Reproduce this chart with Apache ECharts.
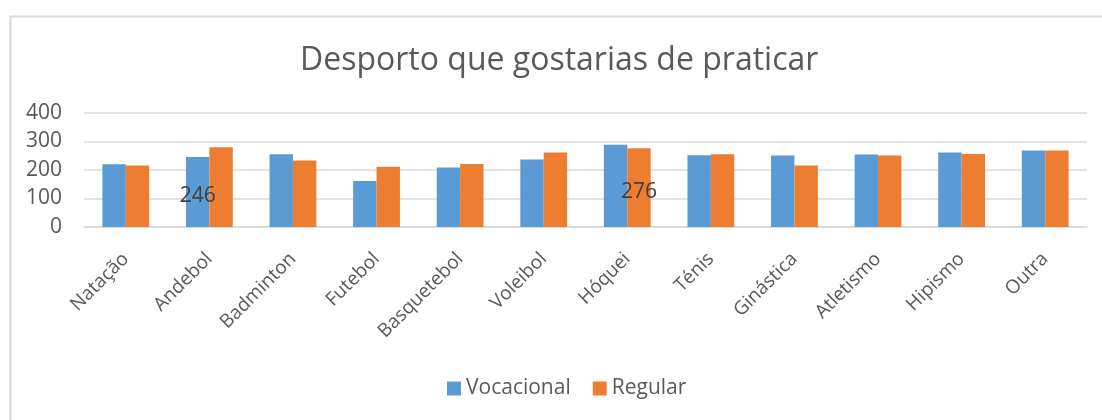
<!DOCTYPE html>
<html>
<head>
<meta charset="utf-8">
<script src="https://cdn.jsdelivr.net/npm/echarts@6/dist/echarts.min.js"></script>
<style>
  html, body { margin: 0; padding: 0; background: #fff; }
  #main { width: 1102px; height: 420px; }
</style>
</head>
<body>
<div id="main"></div>
<script>
var categories = ['Natação', 'Andebol', 'Badminton', 'Futebol', 'Basquetebol', 'Voleibol',
    'Hóquei', 'Ténis', 'Ginástica', 'Atletismo', 'Hipismo', 'Outra'];
var vocacional = [220, 246, 255, 161, 209, 237, 289, 252, 251, 254, 261, 268];
var regular = [216, 280, 233, 211, 221, 261, 276, 255, 216, 251, 256, 268];
// only these points carry a value label in the original
var vocacionalLabels = ['Andebol'];
var regularLabels = ['Hóquei'];

var FONT = '"Open Sans", "DejaVu Sans", sans-serif';
var TXT = '#595959';

function toData(values, labelled) {
    var out = [];
    for (var i = 0; i < values.length; i++) {
        var item = { value: values[i] };
        if (labelled.indexOf(categories[i]) >= 0) {
            item.label = { show: true };
        }
        out.push(item);
    }
    return out;
}

var chart = echarts.init(document.getElementById('main'));

var barLabel = {
    show: false,
    position: 'inside',
    offset: [0, 4],
    color: '#404040',
    fontFamily: FONT,
    fontSize: 21
};

var option = {
    animation: false,
    backgroundColor: '#fff',
    textStyle: { fontFamily: FONT },
    title: {
        text: 'Desporto que gostarias de praticar',
        left: 300,
        top: 45,
        padding: 0,
        textStyle: { color: TXT, fontSize: 32, fontWeight: 'normal', fontFamily: FONT }
    },
    graphic: [{
        type: 'rect',
        left: 8, top: 14,
        shape: { width: 1200, height: 500 },
        style: { fill: 'none', stroke: '#d9d9d9', lineWidth: 2 },
        silent: true
    }],
    legend: {
        data: ['Vocacional', 'Regular'],
        bottom: 16,
        left: 442,
        itemWidth: 14,
        itemHeight: 14,
        itemGap: 22,
        icon: 'rect',
        textStyle: { color: TXT, fontSize: 21, fontFamily: FONT }
    },
    grid: { left: 84, right: 15, top: 113, bottom: 193 },
    xAxis: {
        type: 'category',
        data: categories,
        axisLine: { lineStyle: { color: '#d9d9d9', width: 1.5 } },
        axisTick: { show: false },
        axisLabel: {
            rotate: 45,
            interval: 0,
            margin: 29,
            color: TXT,
            fontSize: 19,
            fontFamily: FONT
        }
    },
    yAxis: {
        type: 'value',
        min: 0,
        max: 400,
        interval: 100,
        axisLine: { show: false },
        axisTick: { show: false },
        axisLabel: { color: TXT, fontSize: 21, fontFamily: FONT, margin: 22 },
        splitLine: { lineStyle: { color: '#d9d9d9', width: 1.5 } }
    },
    series: [{
        name: 'Vocacional',
        type: 'bar',
        barWidth: '28%',
        barGap: '0%',
        itemStyle: { color: '#5B9BD5' },
        label: barLabel,
        data: toData(vocacional, vocacionalLabels)
    }, {
        name: 'Regular',
        type: 'bar',
        barWidth: '28%',
        barGap: '0%',
        itemStyle: { color: '#ED7D31' },
        label: barLabel,
        data: toData(regular, regularLabels)
    }]
};

chart.setOption(option);
</script>
</body>
</html>
